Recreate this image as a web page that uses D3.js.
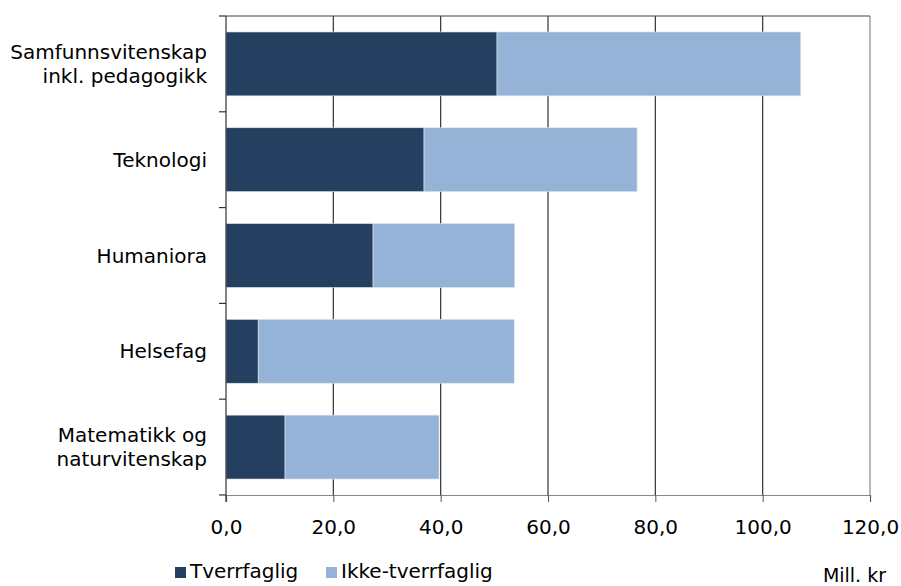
<!DOCTYPE html>
<html><head><meta charset="utf-8">
<script src="https://cdn.jsdelivr.net/npm/d3@7"></script>
<style>body{margin:0;background:#fff}svg{display:block}text{font-family:"DejaVu Sans",Verdana,sans-serif;fill:#000}</style>
</head><body><svg id="c" width="901" height="586"></svg>
<script>
const categories = [["Samfunnsvitenskap","inkl. pedagogikk"],["Teknologi"],["Humaniora"],["Helsefag"],["Matematikk og","naturvitenskap"]];
const tverrfaglig = [50.5, 36.9, 27.4, 6.0, 11.0];
const ikkeTverrfaglig = [56.6, 39.7, 26.4, 47.7, 28.7];
const seriesNames = ["Tverrfaglig","Ikke-tverrfaglig"];
const xTicks = [0,20,40,60,80,100,120];
const unitLabel = "Mill. kr";

const colors = ["#253F60","#95B3D7"];
const svg = d3.select("#c");
const L=226,R=870,T=16,B=495;
const x = d3.scaleLinear().domain([0,120]).range([L,R]);
const y = d3.scaleBand().domain(d3.range(categories.length)).range([T,B]).paddingInner(0.333).paddingOuter(0.1667);
const fs = 20;

// gridlines
svg.append("g").selectAll("line").data(xTicks.slice(1)).join("line")
  .attr("x1",d=>x(d)).attr("x2",d=>x(d)).attr("y1",T).attr("y2",B)
  .attr("stroke",d=>d===120?"#888":"#333").attr("stroke-width",1.2);
svg.append("line").attr("x1",L).attr("x2",R).attr("y1",T).attr("y2",T).attr("stroke","#444").attr("stroke-width",1.2);

// bars
const stacked = categories.map((c,i)=>[
  {s:0,x0:0,x1:tverrfaglig[i],i},
  {s:1,x0:tverrfaglig[i],x1:tverrfaglig[i]+ikkeTverrfaglig[i],i}]).flat();
svg.append("g").selectAll("rect").data(stacked).join("rect")
  .attr("x",d=>x(d.x0)).attr("width",d=>x(d.x1)-x(d.x0))
  .attr("y",d=>y(d.i)).attr("height",y.bandwidth())
  .attr("fill",d=>colors[d.s]).attr("stroke","#dfe6ee").attr("stroke-width",0.6);

// x axis
const xa = svg.append("g").attr("transform",`translate(0,${B})`)
  .call(d3.axisBottom(x).tickValues(xTicks).tickFormat(d=>d3.format(".1f")(d).replace(".",",")).tickSize(7).tickPadding(18));
xa.select(".domain").attr("stroke","#888").attr("stroke-width",1.2);
xa.selectAll(".tick line").attr("stroke","#555");
xa.selectAll("text").attr("font-size",fs).attr("font-family","DejaVu Sans, Verdana, sans-serif").attr("fill","#000");

// y axis line + ticks at category boundaries
svg.append("line").attr("x1",L).attr("x2",L).attr("y1",T).attr("y2",B+7).attr("stroke","#333").attr("stroke-width",1.2);
const step = y.step();
svg.append("g").selectAll("line").data(d3.range(categories.length+1)).join("line")
  .attr("x1",L-7).attr("x2",L).attr("y1",d=>T+d*step).attr("y2",d=>T+d*step).attr("stroke","#333").attr("stroke-width",1.2);

// category labels
const lab = svg.append("g").selectAll("text").data(categories).join("text")
  .attr("text-anchor","end").attr("font-size",fs);
lab.each(function(lines,i){
  const cy = y(i)+y.bandwidth()/2;
  const lh = 24;
  const start = cy - (lines.length-1)*lh/2 + 7;
  d3.select(this).selectAll("tspan").data(lines).join("tspan")
    .attr("x",L-19).attr("y",(d,j)=>start+j*lh).text(d=>d);
});

// legend
const lg = svg.append("g");
const legX = [175, 326];
seriesNames.forEach((n,i)=>{
  lg.append("rect").attr("x",legX[i]).attr("y",567).attr("width",11).attr("height",11).attr("fill",colors[i]);
  lg.append("text").attr("x",legX[i]+15).attr("y",578).attr("font-size",fs).text(n);
});
svg.append("text").attr("x",886).attr("y",582).attr("text-anchor","end").attr("font-size",fs-1).text(unitLabel);
</script></body></html>
